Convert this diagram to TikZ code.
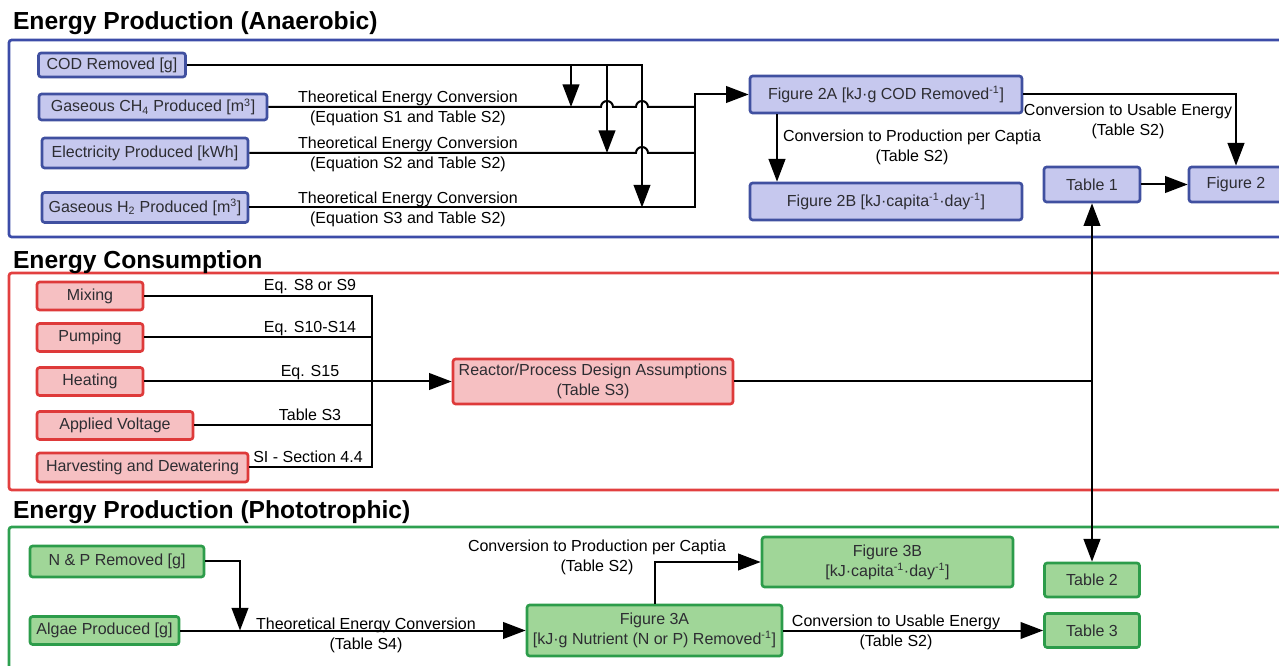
\documentclass[tikz,border=0pt]{standalone}
\usepackage{fontspec}
\setmainfont{Liberation Sans}
\usetikzlibrary{arrows.meta,calc}

\definecolor{frameblue}{RGB}{60,76,168}
\definecolor{edgeblue}{RGB}{64,80,160}
\definecolor{fillblue}{RGB}{198,200,238}
\definecolor{framered}{RGB}{226,64,64}
\definecolor{edgered}{RGB}{222,58,58}
\definecolor{fillred}{RGB}{246,192,194}
\definecolor{framegreen}{RGB}{46,160,80}
\definecolor{edgegreen}{RGB}{44,156,74}
\definecolor{fillgreen}{RGB}{160,214,152}
\definecolor{boxtext}{RGB}{45,45,50}

\tikzset{every picture/.style={line width=1.5pt}}
\tikzset{
  >={Triangle[length=17pt,width=12.5pt]},
  boxsize/.style 2 args={minimum width=#1*0.75pt, minimum height=#2*0.75pt},
  basebox/.style={rounded corners=2pt, line width=2pt, inner sep=0.75pt, align=center,
    text=boxtext, font=\fontsize{12}{15}\selectfont},
  bluebox/.style={basebox, draw=edgeblue, fill=fillblue},
  redbox/.style={basebox, draw=edgered, fill=fillred},
  greenbox/.style={basebox, draw=edgegreen, fill=fillgreen},
  lbl/.style={inner sep=0.75pt, align=center, font=\fontsize{12}{15}\selectfont},
  sectitle/.style={anchor=base west, inner sep=0pt, font=\fontsize{18.5}{22}\selectfont\bfseries},
  frame/.style={line width=2pt, rounded corners=2pt},
}

\begin{document}
\begin{tikzpicture}[x=0.75pt,y=0.75pt,yscale=-1,xscale=1]
\useasboundingbox (0,0) rectangle (1279,666);

%Frames
\draw [frame, frameblue] (9,40) rectangle (1290,237) ;
\draw [frame, framered] (9,273) rectangle (1290,490) ;
\draw [frame, framegreen] (9,527) rectangle (1290,680) ;

% Titles
\node [sectitle] (tana) at (12,30) {Energy Production (Anaerobic)};
\node [sectitle] (tcons) at (12,269) {Energy Consumption};
\node [sectitle] (tphot) at (12,519) {Energy Production (Phototrophic)};

%Anaerobic boxes
\node [bluebox, boxsize={147}{24}] (cod) at (112,65) {COD Removed [g]};
\node [bluebox, boxsize={228}{26}] (ch4) at (153,107) {Gaseous CH\textsubscript{4} Produced [m\textsuperscript{3}]};
\node [bluebox, boxsize={206}{30}] (elec) at (145,153) {Electricity Produced [kWh]};
\node [bluebox, boxsize={206}{30}] (h2) at (145,207.5) {Gaseous H\textsubscript{2} Produced [m\textsuperscript{3}]};
\node [bluebox, boxsize={272}{37}] (fig2a) at (886,94.5) {Figure 2A [kJ·g COD Removed\textsuperscript{-1}]};
\node [bluebox, boxsize={272}{37}] (fig2b) at (886,201.5) {Figure 2B [kJ·capita\textsuperscript{-1}·day\textsuperscript{-1}]};
\node [bluebox, boxsize={96}{35}] (tab1) at (1092,184.5) {Table 1};
\node [bluebox, boxsize={94}{35}] (fig2) at (1236,184.5) {Figure 2};

\coordinate (b1) at (571,0);
\coordinate (b2) at (607,0);
\coordinate (b3) at (642,0);
\coordinate (m) at (695,0);
\coordinate (v2b) at (777,0);

%Anaerobic connectors
\draw [->] (cod.east) -| (b3 |- h2.east) ;
\draw [->] (cod.east -| b1) -- (b1 |- ch4.east) ;
\draw [->] (cod.east -| b2) -- (b2 |- elec.east) ;
\draw (ch4.east) -- ($(b2 |- ch4.east)+(-6,0)$) arc[start angle=180,end angle=360,radius=6]
  -- ($(b3 |- ch4.east)+(-6,0)$) arc[start angle=180,end angle=360,radius=6] -- (m |- ch4.east) ;
\draw (elec.east) -- ($(b3 |- elec.east)+(-6,0)$) arc[start angle=180,end angle=360,radius=6]
  -- (m |- elec.east) ;
\draw [->] (h2.east) -| (m |- fig2a.west) -- (fig2a.west) ;
\draw [->] (fig2a.south -| v2b) -- (fig2b.north -| v2b) ;
\draw [->] (fig2a.east) -| (fig2.north) ;
\draw [->] (tab1.east) -- (fig2.west) ;

% Text Node
\node [lbl] (lch4) at (408,108) {Theoretical Energy Conversion\\(Equation S1 and Table S2)};
\node [lbl] (lelec) at (408,154.5) {Theoretical Energy Conversion\\(Equation S2 and Table S2)};
\node [lbl] (lh2) at (408,209) {Theoretical Energy Conversion\\(Equation S3 and Table S2)};
\node [lbl] (lcap) at (912,147.5) {Conversion to Production per Captia\\(Table S2)};
\node [lbl] (luse) at (1128,121) {Conversion to Usable Energy\\(Table S2)};

%Consumption boxes
\node [redbox, boxsize={106}{28}] (mix) at (90,296) {Mixing};
\node [redbox, boxsize={106}{28}] (pump) at (90,337.5) {Pumping};
\node [redbox, boxsize={106}{28}] (heat) at (90,381.5) {Heating};
\node [redbox, boxsize={156}{28}] (volt) at (115,425.5) {Applied Voltage};
\node [redbox, boxsize={211}{29}] (harv) at (142.5,467.5) {Harvesting and Dewatering};
\node [redbox, boxsize={280}{45}] (reac) at (593,381.5) {Reactor/Process Design Assumptions\\(Table S3)};

\coordinate (jr) at (372,0);

%Consumption connectors
\draw (mix.east) -| (jr |- harv.east) -- (harv.east) ;
\draw (pump.east) -- (pump.east -| jr) ;
\draw (volt.east) -- (volt.east -| jr) ;
\draw [->] (heat.east) -- (reac.west) ;
\draw (reac.east) -- (reac.east -| tab1.south) ;

% Text Node
\node [lbl, anchor=base] (lmix) at (310,291) {Eq. S8 or S9};
\node [lbl, anchor=base] (lpump) at (310,333) {Eq. S10-S14};
\node [lbl, anchor=base] (lheat) at (310,377) {Eq. S15};
\node [lbl, anchor=base] (lvolt) at (310,421) {Table S3};
\node [lbl, anchor=base] (lharv) at (308,463) {SI - Section 4.4};

%Phototrophic boxes
\node [greenbox, boxsize={174}{31}] (np) at (117,561.5) {N \& P Removed [g]};
\node [greenbox, boxsize={149}{28}] (alg) at (104.5,630.5) {Algae Produced [g]};
\node [greenbox, boxsize={255}{51}] (fig3a) at (654.5,630.5) {Figure 3A\\{[}kJ·g Nutrient (N or P) Removed\textsuperscript{-1}]};
\node [greenbox, boxsize={251}{50}] (fig3b) at (887.5,562) {Figure 3B\\{[}kJ·capita\textsuperscript{-1}·day\textsuperscript{-1}]};
\node [greenbox, boxsize={95}{34}] (tab2) at (1092,580) {Table 2};
\node [greenbox, boxsize={95}{34}] (tab3) at (1092,630.5) {Table 3};

\coordinate (jg) at (240,630.5);

%Phototrophic connectors
\draw [->] (np.east) -| (jg) ;
\draw [->] (alg.east) -- (fig3a.west) ;
\draw [->] (fig3a.north) |- (fig3b.west) ;
\draw [->] (fig3a.east) -- (tab3.west) ;
\draw [<->] (tab1.south) -- (tab2.north) ;

% Text Node
\node [lbl] (lalg) at (366,635) {Theoretical Energy Conversion\\(Table S4)};
\node [lbl] (lcap3) at (597,557.5) {Conversion to Production per Captia\\(Table S2)};
\node [lbl] (luse3) at (896,632.5) {Conversion to Usable Energy\\(Table S2)};

\end{tikzpicture}
\end{document}
